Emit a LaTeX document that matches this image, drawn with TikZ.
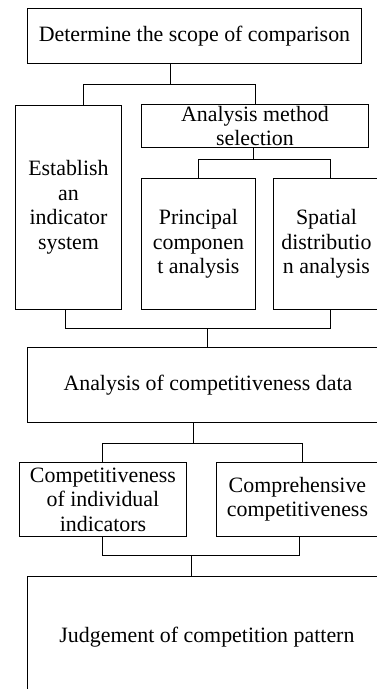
\documentclass[tikz,border=0pt]{standalone}
\usepackage{fontspec}
\setmainfont{Liberation Serif}
\begin{document}
\begin{tikzpicture}[x=1pt,y=-1pt,
  box/.style={draw=black, line width=0.9pt, inner sep=0pt, align=center,
    font=\fontsize{21.9}{24.5}\selectfont, anchor=north west},
  conn/.style={draw=black, line width=0.9pt}]
\useasboundingbox (0,0) rectangle (377,689);
\clip (0,0) rectangle (377,689);
\node[box, minimum width=334pt, minimum height=55pt] (scope) at (27,8) {Determine the scope of comparison};
\node[box, minimum width=106pt, minimum height=204pt] (est) at (15,105) {Establish\\an\\indicator\\system};
\node[box, minimum width=227pt, minimum height=43pt] (method) at (141,104) {Analysis method\\selection};
\node[box, minimum width=114pt, minimum height=131pt] (pca) at (141,178) {Principal\\componen\\t analysis};
\node[box, minimum width=106pt, minimum height=131pt] (sda) at (273,178) {Spatial\\distributio\\n analysis};
\node[box, minimum width=361pt, minimum height=75pt] (data) at (27,347) {Analysis of competitiveness data};
\node[box, minimum width=167pt, minimum height=74pt] (ind) at (19,462) {Competitiveness\\of individual\\indicators};
\node[box, minimum width=162pt, minimum height=74pt] (comp) at (216,462) {Comprehensive\\competitiveness};
\node[box, minimum width=359pt, minimum height=122pt] (judge) at (27,576) {Judgement of competition pattern};
% scope -> est / method
\coordinate (j1) at (170,84);
\coordinate (j1l) at (83,84);
\coordinate (j1r) at (255,84);
\draw[conn] (scope.south -| j1) -- (j1);
\draw[conn] (j1l |- est.north) -- (j1l) -- (j1r) -- (j1r |- method.north);
% method -> pca / sda
\coordinate (j2) at (253,159);
\coordinate (j2l) at (198,159);
\coordinate (j2r) at (330,159);
\draw[conn] (method.south -| j2) -- (j2);
\draw[conn] (j2l |- pca.north) -- (j2l) -- (j2r) -- (j2r |- sda.north);
% est / sda -> data
\coordinate (j3) at (207,328);
\coordinate (j3l) at (65,328);
\coordinate (j3r) at (330,328);
\draw[conn] (j3l |- est.south) -- (j3l) -- (j3r) -- (j3r |- sda.south);
\draw[conn] (j3) -- (j3 |- data.north);
% data -> ind / comp
\coordinate (j4) at (193,443);
\coordinate (j4l) at (102,443);
\coordinate (j4r) at (302,443);
\draw[conn] (data.south -| j4) -- (j4);
\draw[conn] (j4l |- ind.north) -- (j4l) -- (j4r) -- (j4r |- comp.north);
% ind / comp -> judge
\coordinate (j5) at (191,555);
\coordinate (j5l) at (102,555);
\coordinate (j5r) at (299,555);
\draw[conn] (j5l |- ind.south) -- (j5l) -- (j5r) -- (j5r |- comp.south);
\draw[conn] (j5) -- (j5 |- judge.north);
\end{tikzpicture}
\end{document}
